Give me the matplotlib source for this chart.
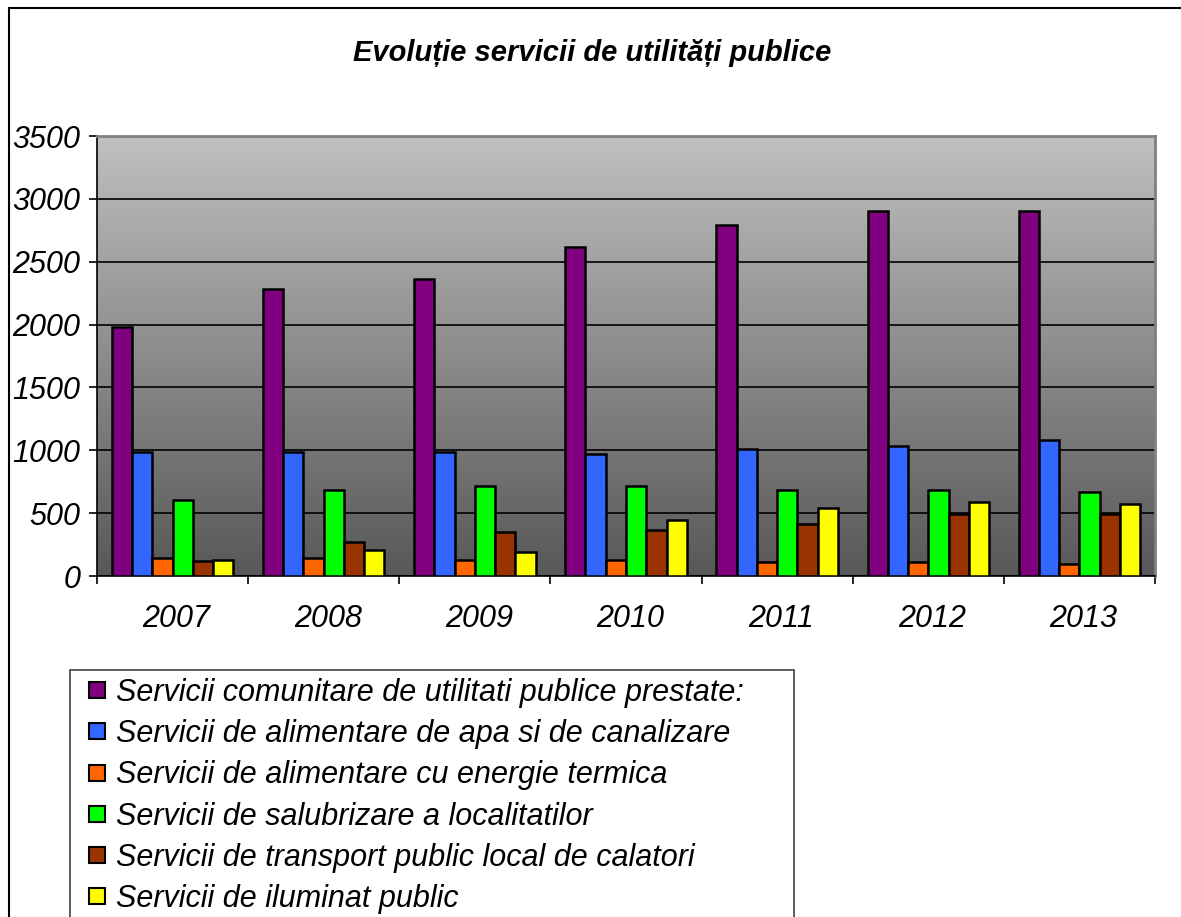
import numpy as np
import matplotlib
matplotlib.use("Agg")
import matplotlib.pyplot as plt
from matplotlib.patches import Rectangle
from matplotlib.lines import Line2D
from matplotlib.transforms import ScaledTranslation

plt.rcParams['font.family'] = ['Liberation Sans', 'DejaVu Sans']

years = ['2007', '2008', '2009', '2010', '2011', '2012', '2013']
series_names = [
    'Servicii comunitare de utilitati publice prestate:',
    'Servicii de alimentare de apa si de canalizare',
    'Servicii de alimentare cu energie termica',
    'Servicii de salubrizare a localitatilor',
    'Servicii de transport public local de calatori',
    'Servicii de iluminat public',
]
comunitare = [1980, 2285, 2365, 2620, 2795, 2905, 2905]
apa_canal = [985, 985, 985, 968, 1013, 1032, 1080]
energie = [140, 140, 127, 127, 110, 110, 97]
salubrizare = [603, 683, 714, 714, 683, 683, 667]
transport = [121, 267, 352, 365, 413, 492, 492]
iluminat = [127, 206, 193, 444, 540, 590, 571]
colors = ['#800080', '#3366FF', '#FF6600', '#00FF00', '#993300', '#FFFF00']

series = [comunitare, apa_canal, energie, salubrizare, transport, iluminat]

W, H = 1181, 917
FS = 22
fig = plt.figure(figsize=(W / 100, H / 100), dpi=100)
ax = fig.add_axes([97 / W, 1 - 576 / H, (1155 - 97) / W, (576 - 136) / H])

# gradient plot area background
grad = np.linspace(0, 1, 256).reshape(-1, 1)
cmap = matplotlib.colors.LinearSegmentedColormap.from_list('g', ['#C0C0C0', '#585858'])
ax.imshow(grad, cmap=cmap, aspect='auto', extent=[0, 1, 0, 1],
          transform=ax.transAxes, zorder=0)

ax.set_xlim(0, len(years))
ax.set_ylim(0, 3500)
ax.set_yticks(range(0, 3501, 500))
ax.yaxis.grid(True, color='black', linewidth=1.2, zorder=1)
ax.set_axisbelow(True)

w = 0.134
x = np.arange(len(years)) + 0.5
for j, (vals, c, name) in enumerate(zip(series, colors, series_names)):
    ax.bar(x + (j - 2.5) * w, vals, width=w, color=c, edgecolor='black',
           linewidth=1.8, label=name, zorder=3)

ax.set_xticks(np.arange(len(years) + 1))
ax.set_xticklabels([])
ax.set_xticks(x, minor=True)
ax.set_xticklabels(years, minor=True, fontsize=FS, style='italic')
ax.tick_params(axis='x', which='major', length=6, width=1.2, direction='out')
ax.tick_params(axis='x', which='minor', length=0, pad=20)
ax.tick_params(axis='y', length=6, width=1.2, pad=6, labelsize=FS)
for lbl in ax.get_yticklabels():
    lbl.set_style('italic')
shift = ScaledTranslation(4 / 100, 0, fig.dpi_scale_trans)
for lbl in ax.get_xticklabels(minor=True):
    lbl.set_transform(lbl.get_transform() + shift)

for s in ['top', 'right']:
    ax.spines[s].set_color('#808080')
    ax.spines[s].set_linewidth(2)
for s in ['left', 'bottom']:
    ax.spines[s].set_color('black')
    ax.spines[s].set_linewidth(1.2)

fig.text(592 / W, 1 - 53 / H, 'Evoluție servicii de utilități publice',
         ha='center', va='center', fontsize=21, fontweight='bold', style='italic')

handles = [Line2D([], [], linestyle='none', marker='s', markersize=12,
                  markerfacecolor=c, markeredgecolor='black', markeredgewidth=1.5)
           for c in colors]
leg = fig.legend(handles, series_names, loc='upper left',
                 bbox_to_anchor=(70 / W, 1 - 670 / H),
                 frameon=False, prop={'size': FS, 'style': 'italic'},
                 handlelength=1.27, handletextpad=0.0,
                 labelspacing=0.37, borderpad=0.25, borderaxespad=0)

# legend frame (runs past the bottom edge)
fig.patches.append(Rectangle((70 / W, -0.1), (794 - 70) / W, 1 - 670 / H + 0.1,
                             transform=fig.transFigure, fill=False,
                             edgecolor='#404040', linewidth=1.2))

# outer chart border
fig.patches.append(Rectangle((9 / W, -0.1), 1.2, 1 - 8 / H + 0.1,
                             transform=fig.transFigure, fill=False,
                             edgecolor='black', linewidth=1.5))

fig.savefig('out.png', dpi=100)
